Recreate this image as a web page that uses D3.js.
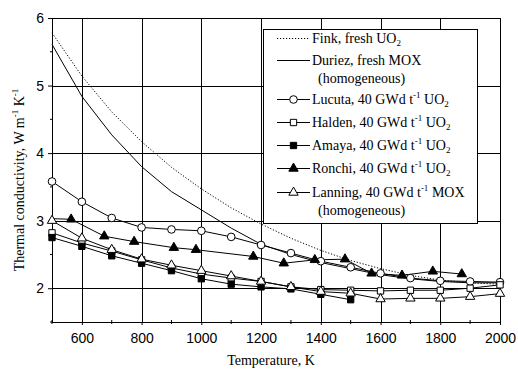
<!DOCTYPE html>
<html>
<head>
<meta charset="utf-8">
<script src="https://cdn.jsdelivr.net/npm/d3@7"></script>
<style>
  body { margin: 0; background: #fff; }
  svg text { fill: #000; }
</style>
</head>
<body>
<svg id="canvas" width="518" height="369"></svg>
<script>
// temperatures for the 100 K grid, K
let temps = [500, 600, 700, 800, 900, 1000, 1100, 1200, 1300, 1400, 1500, 1600, 1700, 1800, 1900, 2000]

let fink = [5.78, 5.14, 4.61, 4.17, 3.79, 3.47, 3.19, 2.95, 2.74, 2.56, 2.41, 2.29, 2.19, 2.12, 2.08, 2.06]
let duriez = [5.61, 4.84, 4.27, 3.80, 3.43, 3.16, 2.89, 2.65, 2.50, 2.38, 2.29, 2.20, 2.14, 2.10, 2.08, 2.08]
let lucuta = [3.58, 3.28, 3.04, 2.90, 2.87, 2.85, 2.76, 2.64, 2.52, 2.40, 2.31, 2.22, 2.15, 2.11, 2.10, 2.09]
let halden = [2.82, 2.67, 2.55, 2.42, 2.30, 2.21, 2.15, 2.10, 2.02, 1.98, 1.97, 1.96, 1.97, 1.97, 2.00, 2.05]
let amayaTemps = [500, 600, 700, 800, 900, 1000, 1100, 1200, 1300, 1400, 1500]
let amaya = [2.75, 2.62, 2.48, 2.37, 2.26, 2.14, 2.06, 2.02, 1.99, 1.91, 1.83]
let lanning = [3.00, 2.74, 2.57, 2.43, 2.34, 2.26, 2.18, 2.10, 2.02, 1.95, 1.925, 1.84, 1.85, 1.85, 1.875, 1.92]
let ronchiTemps = [500, 564, 675, 775, 908, 982, 1174, 1276, 1380, 1481, 1570, 1672, 1775, 1872]
let ronchi = [3.03, 3.02, 2.77, 2.69, 2.60, 2.57, 2.47, 2.37, 2.42, 2.43, 2.22, 2.19, 2.25, 2.21]

let xTicks = [600, 800, 1000, 1200, 1400, 1600, 1800, 2000]
let xMinor = [500, 700, 900, 1100, 1300, 1500, 1700, 1900]
let yTicks = [2, 3, 4, 5, 6]
let yMinor = [1.5, 2.5, 3.5, 4.5, 5.5]

let canvas = d3.select('#canvas')

let xScale = d3.scaleLinear().domain([500, 2000]).range([52, 500])
let yScale = d3.scaleLinear().domain([1.5, 6]).range([322, 18])

let serif = '"Liberation Serif", "Times New Roman", serif'
let sans = '"Liberation Sans", Arial, sans-serif'

// grid
let grid = canvas.append('g').attr('stroke', '#000').attr('stroke-width', 1)
grid.selectAll('line.vg')
    .data(xTicks.filter((t) => t < 2000))
    .enter()
    .append('line')
    .attr('x1', (t) => Math.round(xScale(t)) + 0.5)
    .attr('x2', (t) => Math.round(xScale(t)) + 0.5)
    .attr('y1', yScale(6))
    .attr('y2', yScale(1.5))
grid.selectAll('line.hg')
    .data(yTicks.filter((t) => t < 6))
    .enter()
    .append('line')
    .attr('x1', xScale(500))
    .attr('x2', xScale(2000))
    .attr('y1', (t) => Math.round(yScale(t)) + 0.5)
    .attr('y2', (t) => Math.round(yScale(t)) + 0.5)

// axes
let xAxis = d3.axisBottom(xScale).tickValues(xTicks).tickSize(3).tickPadding(8).tickFormat(d3.format('d'))
let xg = canvas.append('g').attr('transform', 'translate(0,322)').call(xAxis)
xg.select('.domain').remove()
xg.selectAll('text').attr('font-family', sans).attr('font-size', 14)
xg.selectAll('.minor')
    .data(xMinor)
    .enter()
    .append('line')
    .attr('stroke', '#000')
    .attr('x1', (t) => xScale(t))
    .attr('x2', (t) => xScale(t))
    .attr('y1', -2)
    .attr('y2', 2)

let yAxis = d3.axisLeft(yScale).tickValues(yTicks).tickSize(4).tickPadding(4).tickFormat(d3.format('d'))
let yg = canvas.append('g').attr('transform', 'translate(52,0)').call(yAxis)
yg.select('.domain').remove()
yg.selectAll('text').attr('font-family', sans).attr('font-size', 14)
yg.selectAll('.minor')
    .data(yMinor)
    .enter()
    .append('line')
    .attr('stroke', '#000')
    .attr('x1', -2)
    .attr('x2', 0)
    .attr('y1', (t) => yScale(t))
    .attr('y2', (t) => yScale(t))

// frame
canvas.append('rect')
    .attr('x', 52.5)
    .attr('y', 18.5)
    .attr('width', 448)
    .attr('height', 304)
    .attr('fill', 'none')
    .attr('stroke', '#000')

// series
let line = d3.line().x((d) => xScale(d[0])).y((d) => yScale(d[1]))
let zip = (xs, ys) => xs.map((x, i) => [x, ys[i]])

let series = [
    { pts: zip(temps, fink), dash: '1.2,1.8', marker: null },
    { pts: zip(temps, duriez), dash: null, marker: null },
    { pts: zip(temps, lucuta), dash: null, marker: 'circle', fill: '#fff', from: 0 },
    { pts: zip(temps, halden), dash: null, marker: 'square', fill: '#fff', from: 0 },
    { pts: zip(amayaTemps, amaya), dash: null, marker: 'square', fill: '#000', from: 0 },
    { pts: zip(ronchiTemps, ronchi), dash: null, marker: 'triangle', fill: '#000', from: 1 },
    { pts: zip(temps, lanning), dash: null, marker: 'triangle', fill: '#fff', from: 0 }
]

let symbolFor = (m) => {
    if (m === 'circle') {
        return d3.symbol().type(d3.symbolCircle).size(46)()
    } else if (m === 'square') {
        return d3.symbol().type(d3.symbolSquare).size(40)()
    } else {
        return d3.symbol().type(d3.symbolTriangle).size(38)()
    }
}

series.forEach((s) => {
    canvas.append('path')
        .attr('d', line(s.pts))
        .attr('fill', 'none')
        .attr('stroke', '#000')
        .attr('stroke-width', 1)
        .attr('stroke-dasharray', s.dash)
})

series.forEach((s) => {
    if (!s.marker) return
    canvas.append('g')
        .selectAll('path')
        .data(s.pts.slice(s.from))
        .enter()
        .append('path')
        .attr('d', symbolFor(s.marker))
        .attr('transform', (d) => 'translate(' + xScale(d[0]) + ',' + yScale(d[1]) + ')')
        .attr('fill', s.fill)
        .attr('stroke', '#000')
        .attr('stroke-width', 1)
})

// text with sub/superscripts: parts are [text, kind]
let richText = (t, parts) => {
    let shift = 0
    parts.forEach((p) => {
        let target = p[1] === 'sub' ? 3 : (p[1] === 'sup' ? -6 : 0)
        let span = t.append('tspan').text(p[0])
        if (target !== shift) span.attr('dy', target - shift)
        if (p[1]) span.attr('font-size', 9)
        shift = target
    })
}

// legend
let legend = canvas.append('g')
legend.append('rect')
    .attr('x', 263.5)
    .attr('y', 29.5)
    .attr('width', 214)
    .attr('height', 194)
    .attr('fill', '#fff')
    .attr('stroke', '#000')

let legendItems = [
    { y: 38, dash: '1.2,1.8', marker: null, parts: [['Fink, fresh UO'], ['2', 'sub']], extra: null },
    { y: 60, dash: null, marker: null, parts: [['Duriez, fresh MOX']], extra: '(homogeneous)' },
    { y: 99, marker: 'circle', fill: '#fff', parts: [['Lucuta, 40 GWd t'], ['-1', 'sup'], [' UO'], ['2', 'sub']] },
    { y: 122, marker: 'square', fill: '#fff', parts: [['Halden, 40 GWd t'], ['-1', 'sup'], [' UO'], ['2', 'sub']] },
    { y: 145, marker: 'square', fill: '#000', parts: [['Amaya, 40 GWd t'], ['-1', 'sup'], [' UO'], ['2', 'sub']] },
    { y: 168, marker: 'triangle', fill: '#000', parts: [['Ronchi, 40 GWd t'], ['-1', 'sup'], [' UO'], ['2', 'sub']] },
    { y: 192, marker: 'triangle', fill: '#fff', parts: [['Lanning, 40 GWd t'], ['-1', 'sup'], [' MOX']], extra: '(homogeneous)' }
]

legendItems.forEach((item) => {
    legend.append('line')
        .attr('x1', 277)
        .attr('x2', 310)
        .attr('y1', item.y + 0.5)
        .attr('y2', item.y + 0.5)
        .attr('stroke', '#000')
        .attr('stroke-dasharray', item.dash)
    if (item.marker) {
        legend.append('path')
            .attr('d', symbolFor(item.marker))
            .attr('transform', 'translate(293.5,' + (item.y + 0.5) + ')')
            .attr('fill', item.fill)
            .attr('stroke', '#000')
    }
    let t = legend.append('text')
        .attr('x', 312)
        .attr('y', item.y + 5)
        .attr('font-family', serif)
        .attr('font-size', 14)
    richText(t, item.parts)
    if (item.extra) {
        legend.append('text')
            .attr('x', 318)
            .attr('y', item.y + 23)
            .attr('font-family', serif)
            .attr('font-size', 14)
            .text(item.extra)
    }
})

// axis titles
canvas.append('text')
    .attr('x', 271)
    .attr('y', 365)
    .attr('text-anchor', 'middle')
    .attr('font-family', serif)
    .attr('font-size', 14)
    .text('Temperature, K')

let yTitle = canvas.append('text')
    .attr('transform', 'translate(24,180) rotate(-90)')
    .attr('text-anchor', 'middle')
    .attr('font-family', serif)
    .attr('font-size', 14)
richText(yTitle, [['Thermal conductivity, W m'], ['-1', 'sup'], [' K'], ['-1', 'sup']])
</script>
</body>
</html>
